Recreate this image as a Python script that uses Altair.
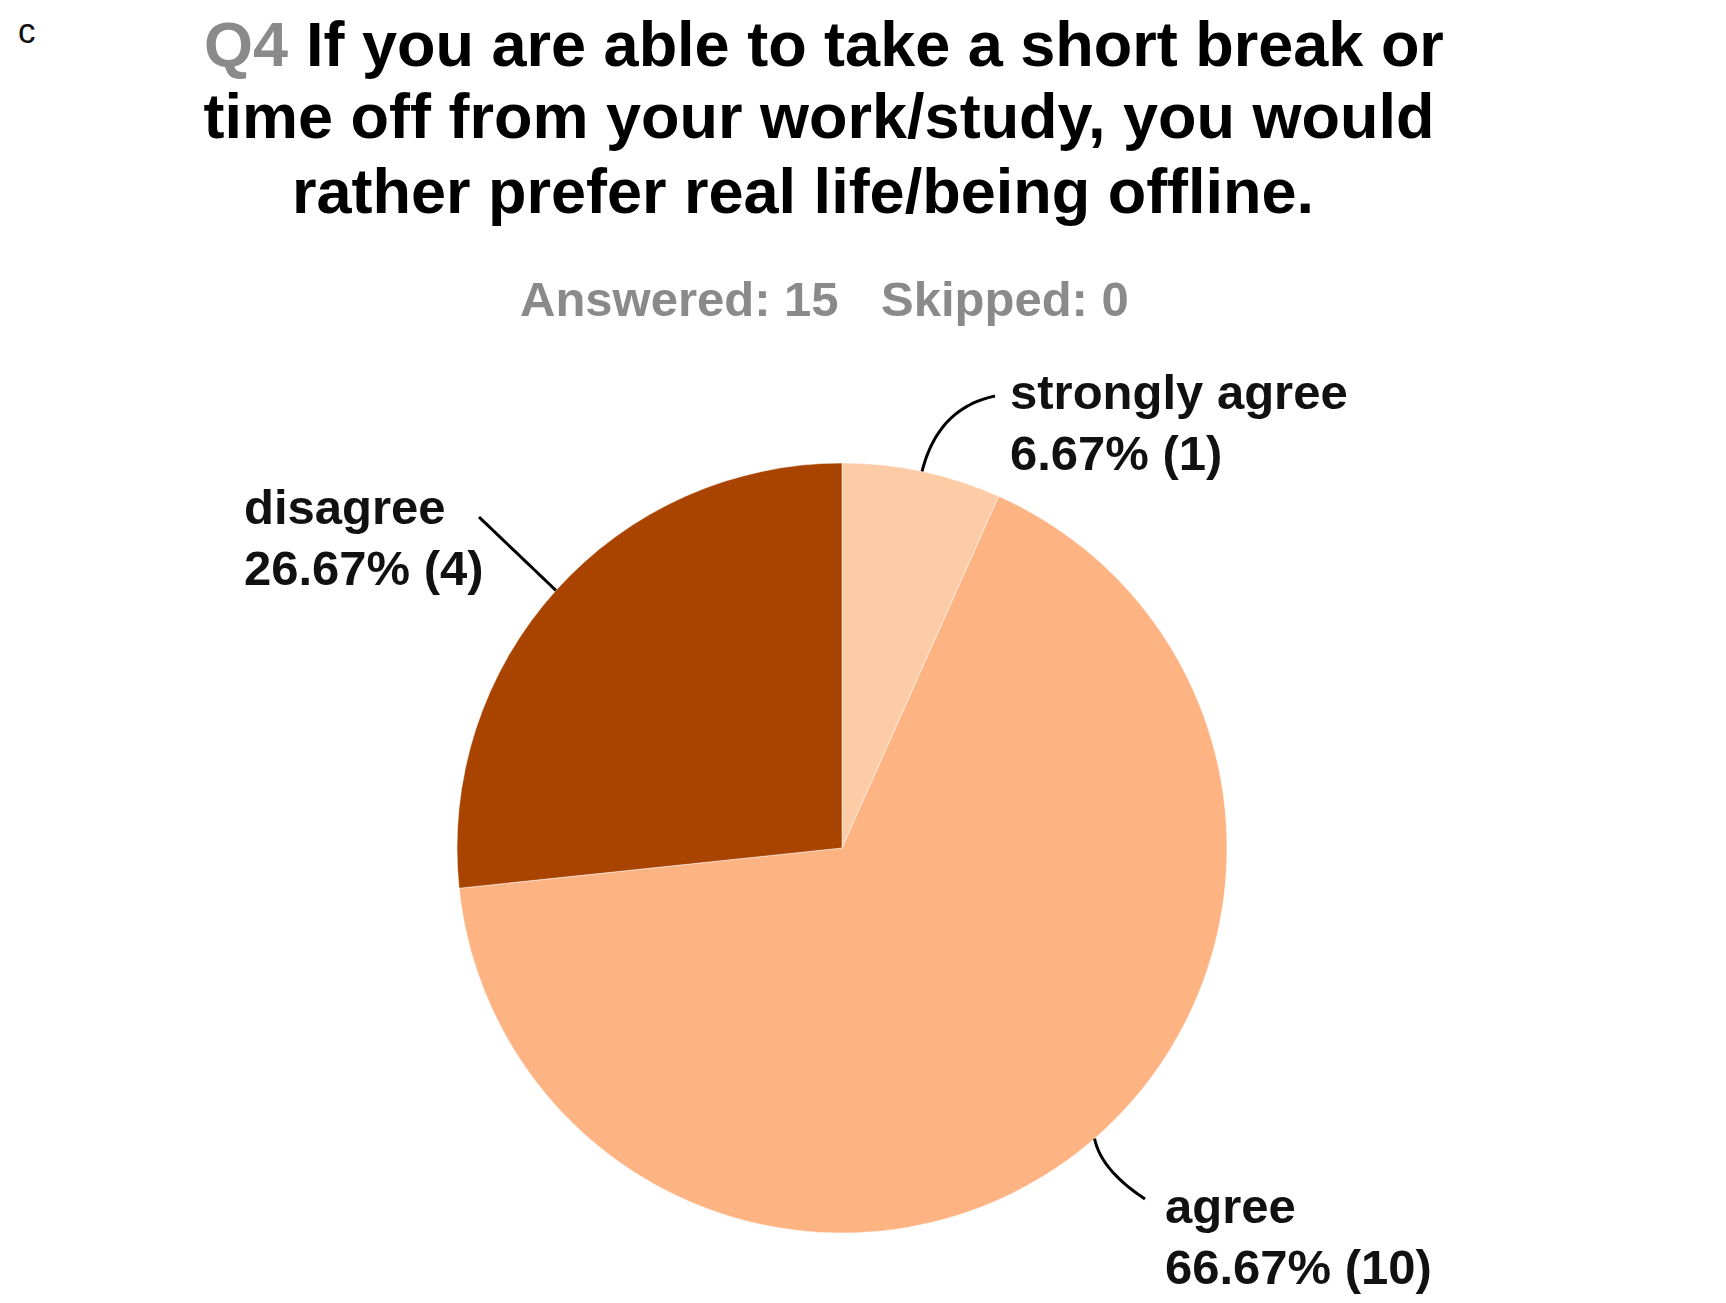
import altair as alt
import pandas as pd
import numpy as np

# ---- data ----
categories = ["strongly agree", "agree", "disagree"]
percents = [6.67, 66.67, 26.67]
counts = [1, 10, 4]
colors = ["#FDCBA6", "#FDB382", "#A94300"]

title_prefix = "Q4"
title_lines = [
    "If you are able to take a short break or",
    "time off from your work/study, you would",
    "rather prefer real life/being offline.",
]
subtitle_parts = ["Answered: 15", "Skipped: 0"]
panel_letter = "c"

# ---- layout (pixels, chart coords) ----
W, H = 1710, 1287
CX, CY, R = 834, 840, 385
FONT = "Liberation Sans"

pie_df = pd.DataFrame({
    "category": categories,
    "percent": percents,
    "count": counts,
    "order": list(range(len(categories))),
})

pie = alt.Chart(pie_df).mark_arc(
    outerRadius=R, stroke="#ffffff", strokeWidth=0.5
).encode(
    theta=alt.Theta("percent:Q", stack=True),
    order=alt.Order("order:Q"),
    color=alt.Color("category:N", scale=alt.Scale(domain=categories, range=colors), legend=None),
    x=alt.value(CX),
    y=alt.value(CY),
)

# leader start angles on the rim (degrees clockwise from 12 o'clock)
leader_angle = {"strongly agree": 12, "agree": 139, "disagree": 312}

# label anchor positions (left edge, first-line baseline) and leader geometry
label_pos = {
    "strongly agree": (1002, 401),
    "agree": (1157, 1215),
    "disagree": (236, 516),
}
leader_end = {
    "strongly agree": (987, 388),
    "agree": (1137, 1191),
    "disagree": (471, 509),
}
leader_ctrl = {
    "strongly agree": (930, 400),
    "agree": (1093, 1162),
    "disagree": None,
}

rows = []
for cat in categories:
    a = np.deg2rad(leader_angle[cat])
    sx, sy = CX + R * np.sin(a), CY - R * np.cos(a)
    ex, ey = leader_end[cat]
    c = leader_ctrl[cat]
    if c is None:
        c = ((sx + ex) / 2, (sy + ey) / 2)
    for t in np.linspace(0, 1, 25):
        px = (1 - t) ** 2 * sx + 2 * (1 - t) * t * c[0] + t ** 2 * ex
        py = (1 - t) ** 2 * sy + 2 * (1 - t) * t * c[1] + t ** 2 * ey
        rows.append({"category": cat, "t": t, "px": px, "py": py})
lead_df = pd.DataFrame(rows)

leaders = alt.Chart(lead_df).mark_line(color="#000000", strokeWidth=3).encode(
    x=alt.X("px:Q", scale=None),
    y=alt.Y("py:Q", scale=None),
    detail="category:N",
    order="t:Q",
)

lab_rows = []
for i, cat in enumerate(categories):
    lx, ly = label_pos[cat]
    lab_rows.append({"txt": cat, "px": lx, "py": ly})
    lab_rows.append({"txt": f"{percents[i]:.2f}% ({counts[i]})", "px": lx, "py": ly + 61})
lab_df = pd.DataFrame(lab_rows)

labels = alt.Chart(lab_df).mark_text(
    font=FONT, fontSize=49, fontWeight="bold", color="#111111",
    align="left", baseline="alphabetic"
).encode(
    x=alt.X("px:Q", scale=None),
    y=alt.Y("py:Q", scale=None),
    text="txt:N",
)

def txt(s, x, y, size, color, align="center", weight="bold"):
    return alt.Chart(pd.DataFrame({"s": [s]})).mark_text(
        font=FONT, fontSize=size, fontWeight=weight, color=color,
        align=align, baseline="alphabetic"
    ).encode(text="s:N", x=alt.value(x), y=alt.value(y))

title_layers = [
    txt(panel_letter, 10, 35, 35, "#111111", align="left", weight="normal"),
    txt(title_prefix, 196, 58, 63, "#8A8A8A", align="left"),
    txt(title_lines[0], 298, 58, 63, "#000000", align="left"),
    txt(title_lines[1], 811, 130, 63, "#000000"),
    txt(title_lines[2], 795, 205, 63, "#000000"),
    txt(subtitle_parts[0], 512, 308, 49, "#8A8A8A", align="left"),
    txt(subtitle_parts[1], 873, 308, 49, "#8A8A8A", align="left"),
]

chart = alt.layer(pie, leaders, labels, *title_layers).properties(
    width=W, height=H, padding=0,
    autosize=alt.AutoSizeParams(type="none"),
).configure(
    background="#ffffff",
    view=alt.ViewConfig(stroke=None),
)

chart.save("out.html", embed_options={"renderer": "svg", "actions": False})
